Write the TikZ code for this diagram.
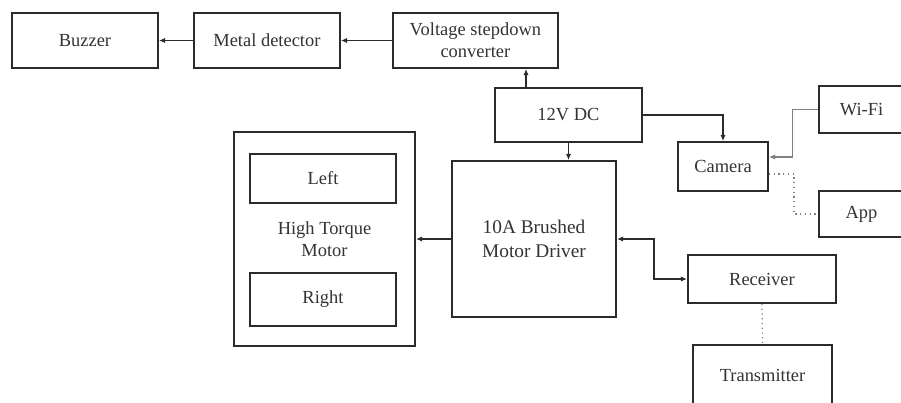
\documentclass[tikz,border=0pt]{standalone}
\usepackage{fontspec}
\setmainfont{Liberation Serif}
\usepackage{xcolor}
\definecolor{blk-line}{HTML}{2B2B2B}
\definecolor{blk-text}{HTML}{333333}
\definecolor{blk-wire}{HTML}{808080}
\usepackage{tikz}
\usetikzlibrary{arrows.meta,positioning,calc}
\tikzset{
  blkbox/.style={
    rectangle,
    draw=blk-line, line width=1.1pt, fill=white,
    align=center, text=blk-text,
    font=\fontsize{10.5}{12.5}\selectfont
  },
  blkarrow/.style={
    -{Latex[length=3.5pt,width=3pt]}, line width=0.9pt,
    draw=blk-line
  },
  blkwire/.style={
    line width=0.6pt, draw=blk-wire
  },
  blkdots/.style={
    dotted, line width=0.7pt, draw=blk-wire
  },
}

\begin{document}
\begin{tikzpicture}[
  node distance=0.5cm and 0.68cm
]
  \useasboundingbox (0,0) rectangle (18.02,-8.06);

  % top row
  \node[blkbox, minimum width=2.92cm, minimum height=1.10cm] (buzz) at (1.70,-0.81) {Buzzer};
  \node[blkbox, minimum width=2.92cm, minimum height=1.10cm, right=of buzz] (met) {Metal detector};
  \node[blkbox, minimum width=3.30cm, minimum height=1.10cm, right=1.02cm of met] (vsc) {Voltage stepdown\\converter};

  % supply and camera side
  \node[blkbox, minimum width=2.94cm, minimum height=1.08cm] (dc) at (11.37,-2.30) {12V DC};
  \node[blkbox, minimum width=1.80cm, minimum height=0.98cm] (cam) at (14.46,-3.33) {Camera};
  \node[blkbox, minimum width=1.70cm, minimum height=0.94cm] (wifi) at (17.23,-2.19) {Wi-Fi};
  \node[blkbox, minimum width=1.70cm, minimum height=0.92cm] (app) at (17.23,-4.28) {App};

  % drive
  \node[blkbox, minimum width=3.28cm, minimum height=3.12cm, font=\fontsize{11}{13.5}\selectfont] (drv) at (10.68,-4.78) {10A Brushed\\Motor Driver};
  \node[blkbox, minimum width=3.62cm, minimum height=4.28cm] (motor) at (6.49,-4.78) {High Torque\\Motor};
  \node[blkbox, minimum width=2.92cm, minimum height=0.98cm] (mleft) at (6.46,-3.57) {Left};
  \node[blkbox, minimum width=2.92cm, minimum height=1.06cm] (mright) at (6.46,-5.99) {Right};

  % radio link
  \node[blkbox, minimum width=2.96cm, minimum height=0.96cm] (rcv) at (15.24,-5.58) {Receiver};
  \node[blkbox, minimum width=2.78cm, minimum height=1.22cm] (tx) at (15.25,-7.51) {Transmitter};

  \draw[blkarrow] (met) -- (buzz);
  \draw[blkarrow] (vsc) -- (met);
  \draw[blkarrow] ([xshift=0.64cm]dc.north west) -- ([xshift=0.64cm]dc.north west |- vsc.south);
  \draw[blkarrow] (dc.east) -| (cam.north);
  \draw[blkarrow] (dc.south) -- (dc.south |- drv.north);
  \draw[blkarrow] (drv.west) -- (motor.east);
  \draw[blkarrow, {Latex[length=3.5pt,width=3pt]}-{Latex[length=3.5pt,width=3pt]}] (drv.east) -- ++(0.74cm,0) |- (rcv.west);
  \draw[blkwire, -{Latex[length=3.5pt,width=3pt]}] (wifi.west) -- ++(-0.52cm,0) |- ([yshift=0.19cm]cam.east);
  \draw[blkdots] ([yshift=-0.15cm]cam.east) -- ++(0.5cm,0) |- (app.west);
  \draw[blkdots] (rcv.south) -- (tx.north);

\end{tikzpicture}
\end{document}
